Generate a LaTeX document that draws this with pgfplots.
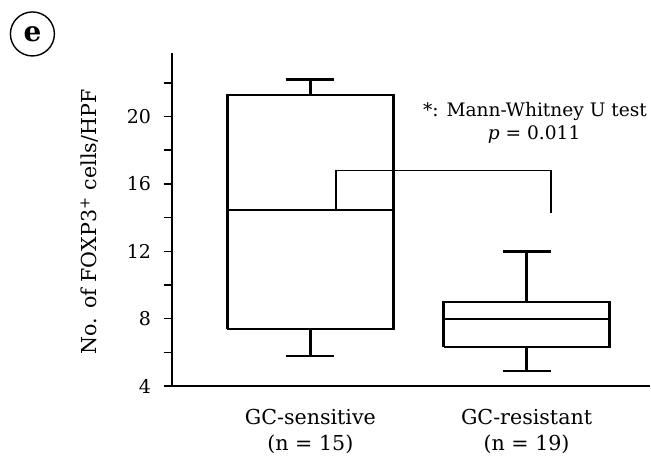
\documentclass[border=0pt]{standalone}
\usepackage{fontspec}
\setmainfont{DejaVu Serif}
\usepackage{pgfplots}
\pgfplotsset{compat=1.18}
\begin{document}
\begin{tikzpicture}
\useasboundingbox (-86pt,-35.5pt) rectangle (239.5pt,193pt);
\begin{axis}[
  at={(0,0)}, anchor=south west,
  scale only axis,
  width=239pt, height=166.7pt,
  xmin=0.360, xmax=2.571,
  ymin=4, ymax=23.8,
  axis x line=bottom, axis y line=left,
  axis line style={-, line width=1.2pt},
  ytick={4,8,12,16,20},
  minor ytick={6,10,14,18,22},
  tick align=outside,
  major tick length=4pt, minor tick length=4pt,
  tick style={line width=0.8pt, black},
  xtick={1,2},
  xticklabels={{GC-sensitive\\(n = 15)},{GC-resistant\\(n = 19)}},
  x tick style={draw=none},
  xticklabel style={align=center, font=\fontsize{10.3}{13.2}\selectfont, yshift=-4pt},
  yticklabel style={font=\fontsize{9.5}{11}\selectfont, xshift=-3pt},
  /pgf/number format/assume math mode=true,
  ylabel={No. of FOXP3\textsuperscript{+} cells/HPF},
  ylabel style={at={(axis description cs:-0.172,0.492)}, anchor=center, font=\fontsize{10.3}{12}\selectfont},
  clip=false,
]
% GC-sensitive box (Q1=7.37, median=14.46, Q3=21.3, whiskers 5.8 / 22.2)
\addplot[black, line width=1.2pt, mark=none] coordinates {
  (0.616,7.37) (1.384,7.37) (1.384,21.3) (0.616,21.3) (0.616,7.37)};
\addplot[black, line width=1.1pt, mark=none] coordinates {(0.616,14.46) (1.384,14.46)};
\addplot[black, line width=1.2pt, mark=none] coordinates {(1,21.3) (1,22.2)};
\addplot[black, line width=1.2pt, mark=none] coordinates {(0.889,22.2) (1.111,22.2)};
\addplot[black, line width=1.2pt, mark=none] coordinates {(1,7.37) (1,5.8)};
\addplot[black, line width=1.2pt, mark=none] coordinates {(0.889,5.8) (1.111,5.8)};
% GC-resistant box (Q1=6.3, median=8.0, Q3=9.0, whiskers 4.9 / 12.0)
\addplot[black, line width=1.2pt, mark=none] coordinates {
  (1.616,6.3) (2.384,6.3) (2.384,9.0) (1.616,9.0) (1.616,6.3)};
\addplot[black, line width=1.1pt, mark=none] coordinates {(1.616,8.0) (2.384,8.0)};
\addplot[black, line width=1.2pt, mark=none] coordinates {(2,9.0) (2,12.0)};
\addplot[black, line width=1.2pt, mark=none] coordinates {(1.889,12.0) (2.111,12.0)};
\addplot[black, line width=1.2pt, mark=none] coordinates {(2,6.3) (2,4.9)};
\addplot[black, line width=1.2pt, mark=none] coordinates {(1.889,4.9) (2.111,4.9)};
% significance bracket
\addplot[black, line width=0.8pt, mark=none] coordinates {
  (1.119,14.46) (1.119,16.8) (2.113,16.8) (2.113,14.3)};
\node[font=\fontsize{9.3}{11}\selectfont] at (axis cs:2.039,20.28) {*: Mann-Whitney U test};
\node[font=\fontsize{9.3}{11}\selectfont] at (axis cs:2.035,18.91) {\textit{p} = 0.011};
\node[draw, circle, line width=0.7pt, minimum size=22pt, inner sep=0pt, font=\fontsize{14}{16}\selectfont\bfseries] at (rel axis cs:-0.292,1.056) {e};
\end{axis}
\end{tikzpicture}
\end{document}
